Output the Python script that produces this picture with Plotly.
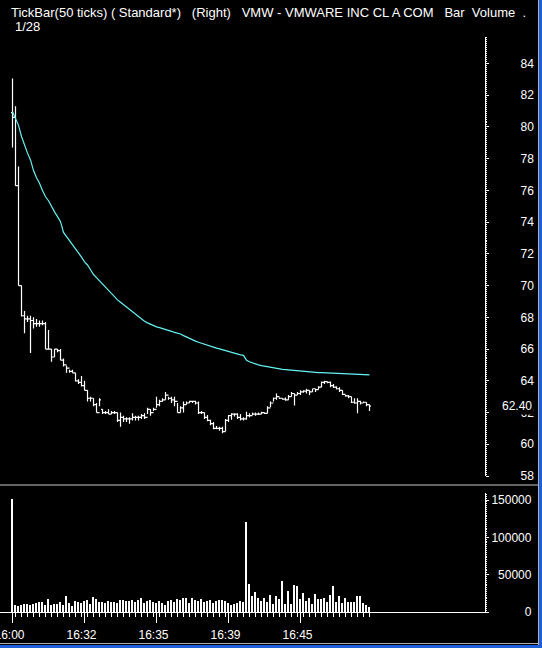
import plotly.graph_objects as go

# tick bars, 50 ticks each, VMW 1/28
bar_idx = list(range(120))

opens = [80.9, 80.6, 76.3, 70.0, 68.1, 67.9, 67.9, 67.8, 67.6, 67.6,
         67.6, 67.6, 66.0, 66.0, 65.5, 66.0, 65.9, 65.3, 65.0, 64.8,
         64.6, 64.5, 64.0, 63.9, 63.7, 63.4, 62.9, 62.9, 62.5, 62.0,
         62.2, 62.0, 62.0, 61.9, 62.0, 62.0, 61.5, 61.7, 61.6, 61.6,
         61.6, 61.7, 61.7, 61.7, 61.8, 61.7, 62.2, 62.0, 62.2, 62.5,
         62.7, 62.8, 63.1, 62.9, 62.8, 62.7, 62.0, 62.3, 62.5, 62.6,
         62.7, 62.7, 62.6, 62.0, 62.0, 61.7, 61.5, 61.3, 61.0, 61.0,
         61.0, 60.8, 61.5, 61.8, 61.9, 61.9, 61.7, 61.6, 61.6, 61.8,
         61.8, 61.9, 61.9, 61.9, 62.0, 61.95, 62.3, 62.6, 62.9, 63.0,
         62.9, 62.85, 62.8, 63.0, 63.2, 63.1, 63.2, 63.3, 63.35, 63.4,
         63.3, 63.5, 63.45, 63.6, 63.9, 63.95, 63.9, 63.7, 63.6, 63.5,
         63.4, 63.15, 63.05, 63.0, 62.65, 62.6, 62.7, 62.6, 62.65, 62.5]
highs = [83.05, 81.3, 77.5, 70.0, 68.4, 68.1, 68.1, 68.0, 67.9, 67.8,
         67.8, 67.7, 67.2, 66.0, 66.0, 66.0, 66.0, 65.4, 64.95, 64.7,
         64.7, 64.5, 64.1, 64.3, 64.0, 63.4, 63.0, 62.9, 62.6, 62.9,
         62.2, 62.1, 62.2, 62.1, 62.1, 62.0, 62.0, 61.8, 61.7, 61.7,
         61.96, 61.8, 61.8, 61.9, 61.96, 62.3, 62.2, 62.3, 63.0, 62.8,
         62.9, 63.3, 63.0, 63.0, 63.0, 62.6, 62.4, 62.7, 62.7, 62.75,
         62.75, 62.75, 62.7, 62.1, 62.0, 61.85, 61.55, 61.4, 61.15, 61.1,
         61.1, 61.6, 61.85, 61.96, 61.96, 61.96, 61.9, 61.7, 62.05, 61.96,
         62.0, 62.0, 62.0, 62.05, 62.0, 62.4, 62.7, 62.95, 63.2, 62.95,
         62.9, 62.95, 63.1, 63.3, 63.2, 63.3, 63.4, 63.4, 63.5, 63.4,
         63.5, 63.5, 63.65, 63.95, 64.0, 63.95, 63.95, 63.8, 63.65, 63.6,
         63.4, 63.1, 63.1, 63.0, 62.9, 62.9, 62.75, 62.7, 62.65, 62.5]
lows = [78.7, 76.3, 70.0, 68.05, 67.0, 67.7, 65.75, 67.3, 67.4, 67.4,
        67.5, 66.0, 66.0, 65.2, 65.5, 65.8, 65.3, 64.9, 64.5, 64.5,
        64.5, 63.96, 63.8, 63.64, 63.4, 62.7, 62.7, 62.4, 62.0, 62.4,
        61.9, 61.9, 61.9, 61.9, 61.9, 61.4, 61.1, 61.4, 61.4, 61.3,
        61.5, 61.5, 61.5, 61.6, 61.6, 61.9, 61.8, 62.1, 62.3, 62.4,
        62.7, 62.8, 62.8, 62.6, 62.4, 62.0, 62.0, 62.0, 62.5, 62.6,
        62.6, 62.5, 61.9, 61.9, 61.6, 61.45, 61.2, 60.95, 60.95, 60.85,
        60.7, 60.8, 61.4, 61.55, 61.75, 61.6, 61.5, 61.5, 61.55, 61.7,
        61.85, 61.8, 61.85, 61.9, 61.9, 61.95, 62.35, 62.7, 62.8, 62.85,
        62.8, 62.75, 62.8, 63.0, 62.45, 63.1, 63.1, 63.25, 63.2, 63.1,
        63.3, 63.3, 63.45, 63.6, 63.8, 63.85, 63.6, 63.55, 63.45, 63.3,
        63.1, 63.0, 62.9, 62.6, 62.55, 61.95, 62.5, 62.6, 62.4, 62.1]
closes = [80.6, 76.3, 70.0, 68.1, 67.9, 67.9, 67.8, 67.6, 67.6, 67.6,
          67.6, 66.0, 66.0, 65.5, 66.0, 65.9, 65.3, 65.0, 64.8, 64.6,
          64.5, 64.0, 63.9, 63.7, 63.4, 62.9, 62.9, 62.5, 62.0, 62.8,
          62.0, 62.0, 61.9, 62.0, 62.0, 61.5, 61.7, 61.6, 61.6, 61.6,
          61.7, 61.7, 61.7, 61.8, 61.7, 62.2, 62.0, 62.2, 62.5, 62.7,
          62.8, 63.1, 62.9, 62.8, 62.7, 62.0, 62.3, 62.5, 62.6, 62.7,
          62.7, 62.6, 62.0, 62.0, 61.7, 61.5, 61.3, 61.0, 61.0, 61.0,
          60.8, 61.5, 61.8, 61.9, 61.9, 61.7, 61.6, 61.6, 61.8, 61.8,
          61.9, 61.9, 61.9, 62.0, 61.95, 62.3, 62.6, 62.9, 63.0, 62.9,
          62.85, 62.8, 63.0, 63.2, 63.1, 63.2, 63.3, 63.35, 63.4, 63.3,
          63.5, 63.45, 63.6, 63.9, 63.95, 63.9, 63.7, 63.6, 63.5, 63.4,
          63.15, 63.05, 63.0, 62.65, 62.6, 62.7, 62.6, 62.65, 62.5, 62.4]

avg_line = [80.96, 80.54, 80.1, 79.4, 78.8, 78.35, 77.92, 77.25, 76.8, 76.45,
            76.0, 75.6, 75.35, 74.95, 74.65, 74.35, 74.03, 73.35, 73.1, 72.8,
            72.55, 72.3, 72.05, 71.8, 71.5, 71.3, 71.0, 70.7, 70.5, 70.3,
            70.1, 69.9, 69.7, 69.5, 69.25, 69.1, 68.95, 68.8, 68.65, 68.45,
            68.35, 68.2, 68.0, 67.85, 67.75, 67.65, 67.55, 67.47, 67.4, 67.35,
            67.3, 67.25, 67.2, 67.12, 67.05, 67.0, 66.95, 66.85, 66.75, 66.65,
            66.57, 66.5, 66.43, 66.36, 66.3, 66.24, 66.17, 66.11, 66.06, 66.01,
            65.95, 65.9, 65.85, 65.8, 65.75, 65.7, 65.63, 65.6, 65.3, 65.2,
            65.12, 65.05, 65.0, 64.96, 64.92, 64.89, 64.86, 64.82, 64.78, 64.74,
            64.72, 64.7, 64.68, 64.66, 64.64, 64.62, 64.6, 64.58, 64.57, 64.55,
            64.54, 64.53, 64.52, 64.51, 64.5, 64.49, 64.48, 64.48, 64.47, 64.46,
            64.46, 64.45, 64.44, 64.43, 64.42, 64.41, 64.4, 64.39, 64.38, 64.37]

volume = [152000, 9800, 8400, 9800, 11000, 11000, 8900, 10700, 12000, 13800,
          12900, 9800, 17800, 8900, 11100, 11100, 13300, 9800, 21800, 12000,
          8400, 14200, 12900, 12000, 14200, 15500, 11100, 20000, 17800, 13300,
          13800, 12000, 14200, 12900, 13800, 12000, 15500, 16400, 14200, 14200,
          15500, 12900, 15500, 18600, 12000, 14200, 16400, 12900, 12000, 14200,
          12000, 9800, 14200, 16400, 12900, 17800, 16400, 18600, 18600, 12000,
          18600, 16400, 14200, 17800, 12900, 14200, 16400, 12000, 14200, 15500,
          16400, 14200, 12000, 9800, 10700, 12000, 14200, 12900, 120000, 37800,
          20900, 26200, 19100, 15100, 19100, 12900, 23100, 11100, 21800, 17800,
          41800, 11100, 28400, 11100, 36400, 35100, 17800, 25800, 15100, 19100,
          11100, 24400, 17800, 17800, 19100, 13800, 23100, 35100, 13800, 21800,
          12400, 19100, 13800, 12900, 12900, 21800, 21800, 12400, 9800, 6700]

time_ticks = [0, 9, 24, 48, 72, 96]
time_labels = ["16:00", "", "16:32", "16:35", "16:39", "16:45"]
minor_ticks = list(range(1, 120, 2))

price_ticks = [58, 60, 62, 64, 66, 68, 70, 72, 74, 76, 78, 80, 82, 84]
vol_ticks = [0, 50000, 100000, 150000]
vol_labels = ["\u2007\u2007\u2007\u2007\u20070", "\u200750000", "100000", "150000"]

header = "TickBar(50 ticks) ( Standard*)   (Right)   VMW - VMWARE INC CL A COM   Bar  Volume  ."
date_text = "1/28"

W, H = 542, 648
FONT = "Liberation Sans"
last_price = closes[-1]
PAD = "\u2007"  # figure space, one digit wide


def px_y(y):
    return (H - y) / H


fig = go.Figure()

fig.add_trace(go.Ohlc(x=bar_idx, open=opens, high=highs, low=lows, close=closes,
                      increasing_line_color="white", decreasing_line_color="white",
                      line_width=1.2, tickwidth=0.5, xaxis="x", yaxis="y",
                      hoverinfo="skip"))
fig.add_trace(go.Scatter(x=bar_idx, y=avg_line, mode="lines",
                         line=dict(color="#66f2f2", width=1.2),
                         xaxis="x", yaxis="y", hoverinfo="skip"))
fig.add_trace(go.Bar(x=bar_idx, y=volume, width=0.36, marker_color="white",
                     marker_line_width=0, xaxis="x2", yaxis="y2", hoverinfo="skip"))

xdom = [0, 485 / W]
tickfont = dict(family=FONT, size=12, color="white")

fig.update_layout(
    width=W, height=H,
    margin=dict(l=0, r=0, t=0, b=0, autoexpand=False),
    paper_bgcolor="black", plot_bgcolor="black",
    showlegend=False,
    bargap=0,
    xaxis=dict(domain=xdom, range=[-4.17, 157.5], anchor="y", automargin=False,
               showgrid=False, zeroline=False, showticklabels=False,
               ticks="", showline=False, rangeslider=dict(visible=False)),
    xaxis2=dict(domain=xdom, matches="x", anchor="y2", automargin=False,
                showgrid=False, zeroline=False,
                showline=True, linecolor="white", linewidth=1,
                tickmode="array", tickvals=time_ticks, ticktext=time_labels,
                ticks="outside", ticklen=10, tickcolor="white", tickwidth=1,
                minor=dict(tickmode="array", tickvals=minor_ticks, ticks="outside",
                           ticklen=4, tickcolor="white", tickwidth=1),
                tickfont=tickfont, ticklabeloverflow="allow",
                ticklabelstandoff=2, ticklabelshift=-3),
    yaxis=dict(domain=[px_y(476), px_y(37)], range=[58, 85.67], anchor="x",
               side="right", automargin=False, showgrid=False, zeroline=False,
               showline=True, linecolor="white", linewidth=1,
               tickmode="array", tickvals=price_ticks,
               ticktext=[PAD * 4 + "\u2009" + str(v) for v in price_ticks],
               ticks="outside", ticklen=3, tickcolor="white",
               minor=dict(dtick=0.125, ticks="outside", ticklen=1, tickcolor="white"),
               tickfont=tickfont),
    yaxis2=dict(domain=[px_y(612), px_y(493)], range=[0, 159500], anchor="x2",
                side="right", automargin=False, showgrid=False, zeroline=False,
                showline=True, linecolor="white", linewidth=1,
                tickmode="array", tickvals=vol_ticks, ticktext=vol_labels,
                ticks="outside", ticklen=3, tickcolor="white",
                minor=dict(dtick=2500, ticks="outside", ticklen=1, tickcolor="white"),
                tickfont=tickfont),
)

# header text
fig.add_annotation(x=9 / W, y=px_y(3), xref="paper", yref="paper",
                   xanchor="left", yanchor="top", showarrow=False,
                   text=header, font=dict(family=FONT, size=13, color="white"))
fig.add_annotation(x=13 / W, y=px_y(17), xref="paper", yref="paper",
                   xanchor="left", yanchor="top", showarrow=False,
                   text=date_text, font=dict(family=FONT, size=13, color="white"))

# last price marker on the price scale
fig.add_annotation(x=534 / W, y=last_price, xref="paper", yref="y",
                   xanchor="right", yanchor="middle", showarrow=False,
                   text=f"{last_price:.2f}", bgcolor="black",
                   font=dict(family=FONT, size=12, color="white"))

# pane separator and window frame
fig.add_shape(type="line", xref="paper", yref="paper",
              x0=0, x1=538 / W, y0=px_y(485), y1=px_y(485),
              line=dict(color="#c8c8c8", width=1))
fig.add_shape(type="line", xref="paper", yref="paper",
              x0=538.5 / W, x1=538.5 / W, y0=0, y1=1,
              line=dict(color="#b0b0b0", width=1))
fig.add_shape(type="rect", xref="paper", yref="paper",
              x0=539 / W, x1=1, y0=0, y1=1,
              fillcolor="#1c5fd8", line_width=0)
fig.add_shape(type="line", xref="paper", yref="paper",
              x0=0, x1=539 / W, y0=px_y(643.5), y1=px_y(643.5),
              line=dict(color="#b0b0b0", width=1))
fig.add_shape(type="rect", xref="paper", yref="paper",
              x0=0, x1=1, y0=0, y1=px_y(645),
              fillcolor="#1c5fd8", line_width=0)

# the page's default body margin would push the chart off the window
fig.write_html("out.html", config={"displayModeBar": False},
               post_script="document.body.style.margin='0';"
                           "document.body.style.overflow='hidden';")
